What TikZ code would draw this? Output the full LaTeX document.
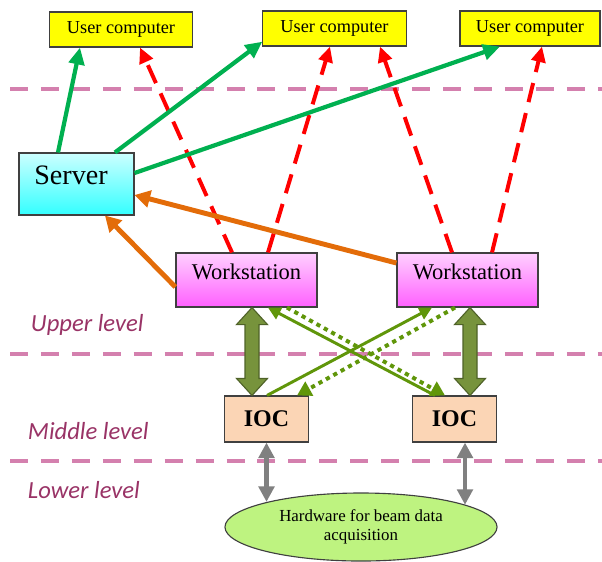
\documentclass[tikz,border=0pt]{standalone}
\usepackage{fontspec}
\setmainfont{Liberation Serif}
\newfontfamily\levelfont{Carlito}
\usetikzlibrary{arrows.meta, calc, shapes.geometric}

\definecolor{boxline}{RGB}{64,64,64}
\definecolor{usryellow}{RGB}{255,255,0}
\definecolor{srvtop}{RGB}{204,255,255}
\definecolor{srvbot}{RGB}{51,255,255}
\definecolor{wstop}{RGB}{255,208,255}
\definecolor{wsbot}{RGB}{255,96,255}
\definecolor{iocfill}{RGB}{251,213,181}
\definecolor{hwfill}{RGB}{190,243,128}
\definecolor{sepline}{RGB}{212,128,174}
\definecolor{lvltext}{RGB}{153,51,102}
\definecolor{usergreen}{RGB}{0,176,80}
\definecolor{hostred}{RGB}{255,0,0}
\definecolor{srvorange}{RGB}{227,108,9}
\definecolor{linkfill}{RGB}{119,147,60}
\definecolor{linkline}{RGB}{79,98,40}
\definecolor{crossgreen}{RGB}{96,150,10}
\definecolor{hwgrey}{RGB}{128,128,128}

\tikzset{
  box/.style={draw=boxline, line width=0.8pt, inner sep=0pt},
  usr/.style={box, fill=usryellow, minimum width=3.58cm, minimum height=0.875cm,
    font=\fontsize{13}{15}\selectfont},
  srv/.style={box, top color=srvtop, bottom color=srvbot, minimum width=2.875cm,
    minimum height=1.55cm, text depth=12.8pt, font=\fontsize{20}{24}\selectfont},
  ws/.style={box, top color=wstop, bottom color=wsbot, minimum width=3.525cm,
    minimum height=1.35cm, text depth=12pt, font=\fontsize{16}{19}\selectfont},
  ioc/.style={box, fill=iocfill, minimum width=2.1cm, minimum height=1.15cm,
    font=\fontsize{17}{20}\selectfont\bfseries},
  hw/.style={ellipse, draw=boxline, line width=0.8pt, fill=hwfill, inner sep=0pt,
    minimum width=6.8cm, minimum height=1.7cm, align=center,
    font=\fontsize{12}{13.5}\selectfont},
  level/.style={anchor=west, text=lvltext,
    font=\levelfont\itshape\fontsize{17.5}{20}\selectfont},
  sep/.style={draw=sepline, line width=3pt, dash pattern=on 12.8pt off 9.2pt},
  userlink/.style={draw=usergreen, line width=3pt, >={Triangle[length=12pt,width=11pt]}, ->},
  hostlink/.style={draw=hostred, line width=2.8pt, dash pattern=on 14pt off 8pt,
    >={Triangle[length=11pt,width=10pt]}, ->},
  srvlink/.style={draw=srvorange, line width=3.5pt, >={Triangle[length=11pt,width=12pt]}, ->},
  crosslink/.style={draw=crossgreen, line width=2.1pt, >={Triangle[length=9pt,width=9pt]}, ->},
  crossdot/.style={draw=crossgreen, line width=2.8pt, dash pattern=on 3pt off 3pt,
    >={Triangle[length=10pt,width=11pt]}, ->},
  linkbody/.style={draw=linkline, fill=linkfill, line width=0.8pt},
  hwlink/.style={draw=hwgrey, line width=3pt, >={Triangle[length=11pt,width=11pt]}, <->}
}

% fat two-way arrow between a top and a bottom point
\newcommand{\linkarrow}[2]{%
  \draw[linkbody] (#1) -- ++(15.5,17) -- ++(-8.5,0) -- ($(#2)+(7,-17)$)
    -- ++(8.5,0) -- (#2) -- ++(-15.5,-17) -- ++(8.5,0)
    -- ($(#1)+(-7,17)$) -- ++(-8.5,0) -- cycle;}

\begin{document}
\begin{tikzpicture}[x=0.025cm, y=-0.025cm]
    \useasboundingbox (0,0) rectangle (602,561);

    % Level separators
    \draw[sep] (10,89) -- (602,89);
    \draw[sep] (10,354) -- (602,354);
    \draw[sep] (10,461) -- (602,461);

    % Level names
    \node[level] (upper) at (26,325) {Upper level};
    \node[level] (middle) at (23,431) {Middle level};
    \node[level] (lower) at (23,490) {Lower level};

    % User computers
    \node[usr] (uc1) at (121,29.5) {User computer};
    \node[usr] (uc2) at (334.5,28.5) {User computer};
    \node[usr, minimum width=3.5cm] (uc3) at (530,28.5) {User computer};

    % Server and workstations
    \node[srv] (srv) at (76.5,184) {Server\hspace*{7.8pt}};
    \node[ws] (ws1) at (246.5,280) {Workstation};
    \node[ws] (ws2) at (467.5,280) {Workstation};

    % IOCs and hardware
    \node[ioc] (ioc1) at (266.5,419) {IOC};
    \node[ioc] (ioc2) at (454.5,419) {IOC};
    \node[hw] (hw) at (361,527) {Hardware for beam data\\acquisition};

    % Workstations to user computers
    \draw[hostlink] (ws1.north -| 232,0) -- (uc1.south -| 140,0);
    \draw[hostlink] (ws1.north -| 268,0) -- (uc2.south -| 330,0);
    \draw[hostlink] (ws2.north -| 452,0) -- (uc2.south -| 380,0);
    \draw[hostlink] (ws2.north -| 492,0) -- (uc3.south -| 542,0);

    % Server to user computers
    \draw[userlink] (srv.north -| 58,0) -- (uc1.south -| 80,0);
    \draw[userlink] (srv.north -| 115,0) -- ([yshift=3.5pt]uc2.south west);
    \draw[userlink] (srv.east |- 0,173) -- (uc3.south -| 500,0);

    % Workstations to server
    \draw[srvlink] (ws1.west |- 0,287) -- (srv.south -| 105,0);
    \draw[srvlink] (ws2.west |- 0,263) -- (srv.east |- 0,195);

    % Workstation <-> IOC
    \coordinate (l1a) at (ws1.south -| 252,0);
    \coordinate (l1b) at (ioc1.north -| 252,0);
    \coordinate (l2a) at (ws2.south -| 470,0);
    \coordinate (l2b) at (ioc2.north -| 470,0);
    \linkarrow{l1a}{l1b}
    \linkarrow{l2a}{l2b}

    % Crossed links
    \draw[crosslink] (ioc1.north -| 267,0) -- (ws2.south -| 432,0);
    \draw[crosslink] (ioc2.north -| 435,0) -- (ws1.south -| 268,0);
    \draw[crossdot] (ws1.south -| 287,0) -- (ioc2.north -| 445,0);
    \draw[crossdot] (ws2.south -| 455,0) -- (ioc1.north -| 297,0);

    % IOC <-> hardware
    \draw[hwlink] (ioc1.south) -- (ioc1.south |- hw.165);
    \draw[hwlink] (ioc2.south -| 465,0) -- (465,0 |- hw.12);
\end{tikzpicture}
\end{document}
